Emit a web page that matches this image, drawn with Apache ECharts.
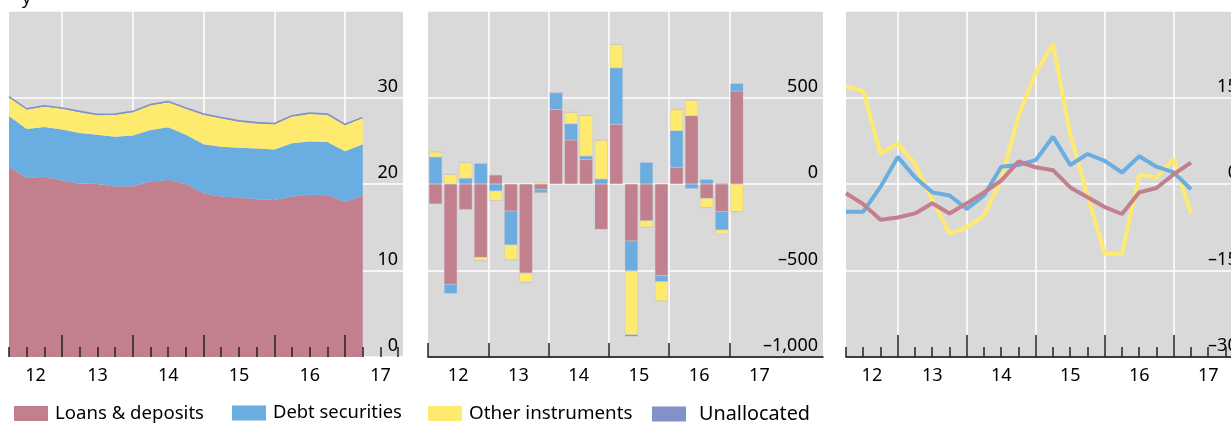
<!DOCTYPE html>
<html><head><meta charset="utf-8">
<script src="https://cdn.jsdelivr.net/npm/echarts@6/dist/echarts.min.js"></script>
<style>html,body{margin:0;padding:0;background:#fff;overflow:hidden}#c{width:1262px;height:425px}</style>
</head><body><div id="c"></div>
<script>
// ---------- DATA ----------
const quarters = ['2012Q1','2012Q2','2012Q3','2012Q4','2013Q1','2013Q2','2013Q3','2013Q4',
  '2014Q1','2014Q2','2014Q3','2014Q4','2015Q1','2015Q2','2015Q3','2015Q4',
  '2016Q1','2016Q2','2016Q3','2016Q4','2017Q1'];
const yearLabels = ['12','13','14','15','16','17'];
const seriesNames = ['Loans & deposits','Debt securities','Other instruments','Unallocated'];

// Left panel: amounts outstanding (stacked)
const stockLoans   = [22.0,20.7,20.85,20.4,20.05,20.0,19.7,19.75,20.3,20.45,20.0,18.9,18.55,18.45,18.25,18.15,18.55,18.75,18.7,17.95,18.65];
const stockDebt    = [5.85,5.65,5.75,5.9,5.85,5.7,5.75,5.85,5.95,6.1,5.7,5.7,5.75,5.75,5.85,5.85,6.15,6.15,6.15,5.85,5.95];
const stockOther   = [2.15,2.25,2.35,2.4,2.4,2.25,2.55,2.7,2.85,2.9,3.0,3.4,3.3,3.0,2.9,2.9,3.1,3.2,3.15,3.0,3.0];
const stockUnalloc = [0.1,0.1,0.1,0.1,0.1,0.1,0.1,0.1,0.1,0.1,0.1,0.1,0.1,0.1,0.1,0.1,0.1,0.1,0.1,0.1,0.1];

// Middle panel: flows (stacked bars)
const flowLoans   = [-115,-579,-148,-423,52,-156,-515,-31,431,254,142,-262,344,-329,-212,-529,96,394,-83,-160,537];
const flowDebt    = [156,-54,33,119,-40,-196,0,-17,96,94,20,29,327,-173,125,-35,212,-27,27,-105,44];
const flowOther   = [30,56,92,-21,-56,-87,-54,10,0,67,234,225,136,-369,-38,-113,123,91,-54,-25,-160];
const flowUnalloc = [0,0,0,0,0,0,0,-5,0,0,0,0,0,-10,0,0,0,0,0,5,0];

// Right panel: lines
const growthOther = [169,161,53,70,35,-28,-86,-75,-55,8,118,193,243,86,-20,-121,-121,16,11.5,43,-52];
const growthDebt  = [-48,-48,-5,47,11.5,-14.5,-20,-43,-20,30,33,41.5,82,33,52,40,20,48,30,20,-9];
const growthLoans = [-16,-35,-62,-58,-51,-33.5,-51,-33.5,-14.5,6,39,29,24,-6,-23,-40,-52,-14.5,-7,17,37];

const yTicks1 = {min:0, max:40, interval:10};
const yTicks2 = {min:-1000, max:1000, interval:500};
const yTicks3 = {min:-300, max:300, interval:150};

// ---------- HELPERS ----------
const FONT = 'Noto Sans';
const C = {loans:'#C27F8D', debt:'#6AADE0', other:'#FFEA70', unalloc:'#8391C8'};
function qYear(q){return +q.slice(0,4);} function qNum(q){return +q.slice(5);}
const qEnd = quarters.map(q => qYear(q) + qNum(q)/4);
const years = [2012,2013,2014,2015,2016,2017];
function pair(xs, ys){return xs.map((x,i)=>[x, ys[i]]);}
function yearLab(v){return yearLabels[Math.floor(v+1e-6)-2012];}
function numLab(v){
  const s = Math.abs(v).toLocaleString('en-US');
  return v < 0 ? '\u2013' + s : s;
}

// panel frames (pixel layout) and year width in px
const P = [
  {left:9,   top:11, width:394, height:346, yw:70.75, min:2012.25, majorLen:22, minor:true,  labelFirst:2012.625},
  {left:428, top:11, width:395, height:346, yw:60.25, min:2012.0,  majorLen:14, minor:false, labelFirst:2012.5},
  {left:846, top:11, width:407, height:346, yw:69,    min:2012.25, majorLen:22, minor:true,  labelFirst:2012.625}
];
P.forEach(p => p.max = p.min + p.width/p.yw);

const gridOpts = P.map(p => ({left:p.left, top:p.top, width:p.width, height:p.height,
  show:true, backgroundColor:'#D9D9D9', borderWidth:0}));
// transparent data grids for the two stacked panels (category axes spanning the quarters)
gridOpts.push({left:P[0].left, top:11, height:346, width:(quarters.length-1)*P[0].yw/4, show:false});
gridOpts.push({left:P[1].left, top:11, height:346, width:quarters.length*P[1].yw/4, show:false});

const xAxes = []; const frameX = [];
P.forEach((g, gi) => {
  const base = {type:'value', gridIndex:gi, min:g.min, max:g.max};
  frameX.push(xAxes.length);
  xAxes.push(Object.assign({}, base, {
    axisLine:{show:false}, axisLabel:{show:false},
    axisTick:{show:false, customValues:years.filter(y=>y>g.min+0.01)},
    splitLine:{show:true, lineStyle:{color:'#fff', width:1.5}}
  }));
  const majVals = gi===1 ? years.slice() : years.filter(y=>y>g.min+0.01);
  const labVals = [g.labelFirst].concat(years.slice(1).map(y=>y+0.5));
  xAxes.push(Object.assign({}, base, {
    position:'bottom', z:10,
    axisLine:{show:false, onZero:false},
    axisTick:{show:true, inside:true, length:g.majorLen, customValues:majVals, lineStyle:{color:'#222', width:1.5}},
    axisLabel:{show:true, customValues:labVals, formatter:yearLab, margin:10, fontSize:18, color:'#000', fontFamily:FONT},
    splitLine:{show:false}
  }));
  if (g.minor) {
    const minVals = [];
    for (let y=2012; y<2018; y++) for (let q=1;q<4;q++){const v=y+q/4; if(v>=g.min-0.01 && v<=g.max) minVals.push(v);}
    xAxes.push(Object.assign({}, base, {
      position:'bottom', z:10,
      axisLine:{show:false, onZero:false},
      axisTick:{show:true, inside:true, length:10, customValues:minVals, lineStyle:{color:'#222', width:1.5}},
      axisLabel:{show:false}, splitLine:{show:false}
    }));
  }
  if (gi > 0) {
    xAxes.push(Object.assign({}, base, {
      position:'bottom', z: gi===1 ? 5 : 1,
      axisLine:{show:true, onZero:true, lineStyle:{color:'#000', width:1.5}},
      axisTick:{show:false}, axisLabel:{show:false}, splitLine:{show:false}
    }));
  }
});
const catX1 = xAxes.length;
xAxes.push({type:'category', gridIndex:3, data:quarters, boundaryGap:false, show:false});
const catX2 = xAxes.length;
xAxes.push({type:'category', gridIndex:4, data:quarters, boundaryGap:true, show:false});

function yAxis(gi, t, fmt, rich){
  return Object.assign({type:'value', gridIndex:gi, position:'right'}, t, {
    axisLine:{show:false}, axisTick:{show:false},
    splitLine:{show:true, lineStyle:{color:'#fff', width:1.5}},
    axisLabel:{inside:true, margin:5, verticalAlign:'bottom', showMaxLabel:false,
      fontSize:18, color:'#000', fontFamily:FONT, padding:[0,0,2,0], formatter:fmt, rich:rich||{}}
  });
}
const yAxes = [
  yAxis(0, yTicks1, numLab),
  yAxis(1, yTicks2, numLab),
  yAxis(2, yTicks3, v => v===0 ? '{z|0}' : numLab(v),
    {z:{fontSize:18, color:'#000', fontFamily:FONT, padding:[0,10,0,0]}}),
  Object.assign({type:'value', gridIndex:3, show:false}, yTicks1),
  Object.assign({type:'value', gridIndex:4, show:false}, yTicks2)
];

const series = [];
[[stockLoans,C.loans,0],[stockDebt,C.debt,0],[stockOther,C.other,0],[stockUnalloc,C.unalloc,1.5]].forEach((s,i)=>{
  series.push({type:'line', name:seriesNames[i], xAxisIndex:catX1, yAxisIndex:3, stack:'stock',
    data:s[0], symbol:'none', color:s[1],
    lineStyle:{width:s[2], color:s[1]}, areaStyle:{color:s[1], opacity:1}, z:2});
});
[[flowLoans,C.loans],[flowDebt,C.debt],[flowOther,C.other],[flowUnalloc,C.unalloc]].forEach((s,i)=>{
  series.push({type:'bar', name:seriesNames[i], xAxisIndex:catX2, yAxisIndex:4, stack:'flow',
    data:s[0], barWidth:13, color:s[1],
    itemStyle:{color:s[1], borderColor:'rgba(185,185,200,0.45)', borderWidth:0.5}, z:2});
});
[[growthOther,C.other,2],[growthDebt,C.debt,1],[growthLoans,C.loans,0]].forEach(s=>{
  series.push({type:'line', name:seriesNames[s[2]], xAxisIndex:frameX[2], yAxisIndex:2,
    data:pair(qEnd, s[0]), symbol:'none', color:s[1], lineStyle:{width:4, color:s[1]}, z:3});
});

const legendPos = [14, 232, 428, 652];
const legendFont = [18.6, 18.4, 18.8, 19.8];
const legendPad = [2, 2, 2, 8];
const legends = seriesNames.map((n,i)=>({data:[n], left:legendPos[i], top:404, padding:0, icon:'rect',
  itemWidth:34, itemHeight:15, itemGap:0, selectedMode:false,
  textStyle:{fontSize:legendFont[i], color:'#000', fontFamily:FONT, padding:[i===3?2:0,0,0,legendPad[i]]}}));

const chart = echarts.init(document.getElementById('c'), null, {renderer:'canvas'});
chart.setOption({
  animation:false,
  textStyle:{fontFamily:FONT},
  title:{text:'y', left:17, top:-15, textStyle:{fontSize:18, fontWeight:'normal', color:'#000', fontFamily:FONT}},
  grid:gridOpts, xAxis:xAxes, yAxis:yAxes, legend:legends, series:series
});
</script></body></html>
